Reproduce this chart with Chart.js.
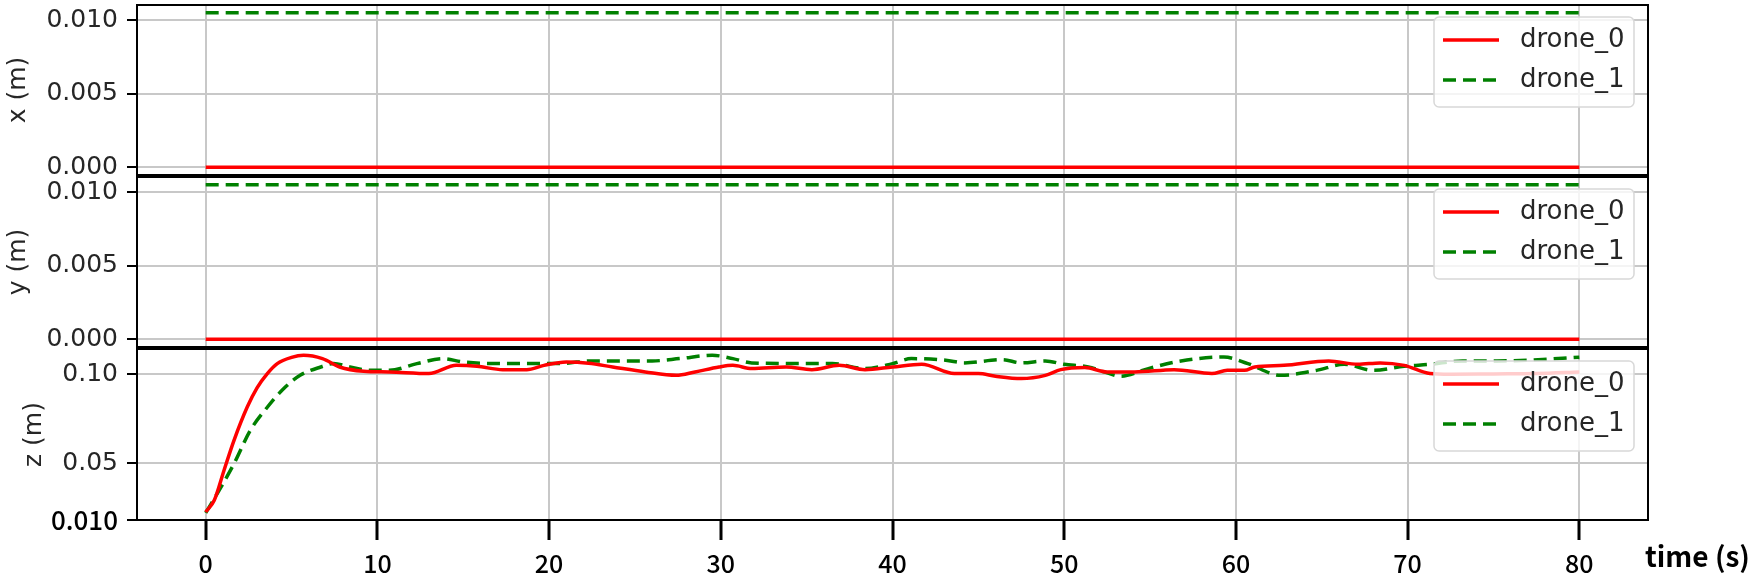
<!DOCTYPE html>
<html>
<head>
<meta charset="utf-8">
<script src="https://cdn.jsdelivr.net/npm/chart.js@4.4.0/dist/chart.umd.min.js"></script>
<style>
  html, body { margin: 0; padding: 0; background: #fff; }
  #wrap { position: relative; width: 1755px; height: 584px; }
  #wrap canvas { position: absolute; left: 0; top: 0; }
</style>
</head>
<body>
<div id="wrap">
  <canvas id="panelX" width="1755" height="584"></canvas>
  <canvas id="panelY" width="1755" height="584"></canvas>
  <canvas id="panelZ" width="1755" height="584"></canvas>
</div>
<script>
const seriesNames = ["drone_0", "drone_1"];

const timeTicks = [0, 10, 20, 30, 40, 50, 60, 70, 80];
const timeLabels = ["0", "10", "20", "30", "40", "50", "60", "70", "80"];

const xyTicks = [0, 0.005, 0.010];
const xyTickLabels = ["0.000", "0.005", "0.010"];
const zTicks = [0.018, 0.05, 0.10];
const zTickLabels = ["0.010", "0.05", "0.10"];

// x and y stay flat for the whole run
const xTime = [0, 80];
const xDrone0 = [0, 0];
const xDrone1 = [0.0105, 0.0105];
const yTime = [0, 80];
const yDrone0 = [0, 0];
const yDrone1 = [0.0105, 0.0105];

// z
const zTime0 = [0, 0.5, 1.07, 1.65, 2.42, 3, 3.59, 4.17, 5, 5.7,
  6.8, 7.8, 9.2, 10.7, 13, 14.6, 15.8, 17.3, 18.7, 19.7,
  21, 22.3, 23.7, 25.6, 27.4, 28.5, 29.9, 30.7, 31.8, 33.8,
  35.3, 36.9, 38.4, 40, 41.7, 43.6, 45, 46, 47.5, 48.9,
  49.8, 51.2, 52.5, 54.1, 56.4, 58.6, 59.5, 60.5, 61.1, 62.8,
  65.4, 67.1, 68.4, 69.8, 71.3, 72.5, 75, 77.5, 80];
const zDrone0 = [0.0226, 0.0292, 0.0461, 0.0629, 0.0816, 0.0925, 0.1004, 0.106, 0.1095, 0.1107,
  0.1088, 0.1041, 0.1017, 0.1013, 0.1004, 0.105, 0.1045, 0.1026, 0.1026, 0.105,
  0.1069, 0.1062, 0.1041, 0.1013, 0.0994, 0.1013, 0.1041, 0.105, 0.1032, 0.1041,
  0.1026, 0.105, 0.1026, 0.1041, 0.1056, 0.1004, 0.1004, 0.0989, 0.0976, 0.0994,
  0.1026, 0.1038, 0.1013, 0.1013, 0.1026, 0.1004, 0.1022, 0.1022, 0.1041, 0.105,
  0.1075, 0.1056, 0.1064, 0.105, 0.1004, 0.1, 0.1002, 0.1004, 0.1013];
const zTime1 = [0, 0.9, 1.65, 2.6, 3.6, 4.55, 5.5, 6.7, 7.45, 8.4,
  9.6, 10.7, 12.3, 13.8, 15, 17.5, 19.6, 21, 22.3, 23.7,
  26, 27.6, 29.5, 30.7, 31.8, 34.4, 36.5, 38.4, 40, 41.1,
  43.1, 44.2, 46.4, 47.5, 48.9, 50, 51.4, 52.5, 53.3, 54.9,
  56.8, 59.3, 60.7, 62.6, 64.7, 66.3, 68, 69.8, 71.3, 73.2,
  75.2, 77.1, 80];
const zDrone1 = [0.0221, 0.0367, 0.0498, 0.0685, 0.0816, 0.092, 0.0994, 0.1041, 0.106, 0.1041,
  0.1022, 0.1022, 0.106, 0.1088, 0.1069, 0.106, 0.106, 0.1062, 0.1075, 0.1075,
  0.1075, 0.1088, 0.1107, 0.1088, 0.1064, 0.106, 0.106, 0.1032, 0.106, 0.1088,
  0.1079, 0.1064, 0.1082, 0.1064, 0.1075, 0.1056, 0.1041, 0.1008, 0.0989, 0.1032,
  0.1075, 0.1097, 0.106, 0.0994, 0.1022, 0.1056, 0.1022, 0.1045, 0.1056, 0.1075,
  0.1075, 0.1079, 0.1096];

Chart.defaults.font.family = "DejaVu Sans";
Chart.defaults.color = "#262626";

const tickFont = { family: "DejaVu Sans", size: 25 };
const oddFont = { family: "Noto Sans CJK SC", size: 26, weight: 500 };

const toPoints = (ts, vs) => ts.map((t, i) => ({ x: t, y: vs[i] }));

function makeDatasets(t0, v0, t1, v1) {
  return [
    {
      label: seriesNames[0],
      data: toPoints(t0, v0),
      borderColor: "#ff0000",
      borderWidth: 3.5,
      pointRadius: 0,
      cubicInterpolationMode: "monotone",
    },
    {
      label: seriesNames[1],
      data: toPoints(t1, v1),
      borderColor: "#008000",
      borderWidth: 3.5,
      borderDash: [13, 7],
      pointRadius: 0,
      cubicInterpolationMode: "monotone",
    },
  ];
}

// legend drawn inside the plot, top right, semi-transparent box
const boxLegend = {
  id: "boxLegend",
  afterDatasetsDraw(chart) {
    const { ctx, chartArea } = chart;
    const w = 200, h = 90;
    const left = chartArea.right - 14 - w;
    const top = chartArea.top + 12;
    ctx.save();
    ctx.beginPath();
    ctx.roundRect(left, top, w, h, 5);
    ctx.fillStyle = "rgba(255,255,255,0.8)";
    ctx.fill();
    ctx.strokeStyle = "#d8d8d8";
    ctx.lineWidth = 1.5;
    ctx.stroke();
    chart.data.datasets.forEach((ds, i) => {
      const cy = top + 23 + i * 40;
      ctx.beginPath();
      ctx.setLineDash(ds.borderDash || []);
      ctx.strokeStyle = ds.borderColor;
      ctx.lineWidth = ds.borderWidth;
      ctx.moveTo(left + 9, cy);
      ctx.lineTo(left + 65, cy);
      ctx.stroke();
      ctx.setLineDash([]);
      ctx.fillStyle = "#262626";
      ctx.font = "26px 'DejaVu Sans'";
      ctx.textBaseline = "middle";
      ctx.fillText(ds.label, left + 86, cy);
    });
    ctx.restore();
  },
};

const frame = {
  id: "frame",
  afterDraw(chart) {
    const { ctx, chartArea: a } = chart;
    ctx.save();
    ctx.strokeStyle = "#000";
    ctx.lineWidth = 2;
    ctx.strokeRect(a.left, a.top, a.right - a.left, a.bottom - a.top);
    ctx.restore();
  },
};

const timeTitle = {
  id: "timeTitle",
  afterDraw(chart) {
    const { ctx, chartArea } = chart;
    ctx.save();
    ctx.fillStyle = "#000";
    ctx.font = "bold 28px 'Noto Sans CJK SC'";
    ctx.textBaseline = "middle";
    ctx.fillText("time (s)", chartArea.right - 3, 556);
    ctx.restore();
  },
};

function timeScale(showTicks) {
  return {
    type: "linear",
    min: -4,
    max: 84,
    afterBuildTicks: (s) => { s.ticks = timeTicks.map((v) => ({ value: v })); },
    afterFit: (s) => {
      s.height = showTicks ? 64 : 0;
      s.paddingLeft = 0;
      s.paddingRight = 0;
    },
    grid: {
      color: "#c8c8c8",
      lineWidth: 2,
      drawTicks: showTicks,
      tickLength: 20,
      tickColor: "#000",
      tickWidth: 3,
    },
    border: { display: true, color: "#000", width: 2 },
    ticks: {
      display: showTicks,
      color: "#000",
      padding: 8,
      maxRotation: 0,
      font: { family: "Noto Sans CJK SC", size: 25, weight: 500 },
      callback: (v, i) => timeLabels[i],
    },
  };
}

function valueScale(title, min, max, tickVals, tickLabels, oddFirst) {
  return {
    type: "linear",
    min: min,
    max: max,
    afterBuildTicks: (s) => { s.ticks = tickVals.map((v) => ({ value: v })); },
    afterFit: (s) => {
      s.width = 137;
      s.paddingTop = 0;
      s.paddingBottom = 0;
    },
    grid: {
      color: "#c8c8c8",
      lineWidth: 2,
      tickLength: 10,
      tickColor: "#000",
      tickWidth: 2,
    },
    border: { display: true, color: "#000", width: 2 },
    ticks: {
      padding: 9,
      color: oddFirst ? (c) => (c.index === 0 ? "#000" : "#262626") : "#262626",
      font: oddFirst ? (c) => (c.index === 0 ? oddFont : tickFont) : tickFont,
      callback: (v, i) => tickLabels[i],
    },
    title: {
      display: true,
      text: title,
      color: "#262626",
      font: { family: "DejaVu Sans", size: 25 },
      padding: { top: 3, bottom: 0 },
    },
  };
}

function makePanel(id, datasets, yScale, showTime, pad, extra) {
  new Chart(document.getElementById(id), {
    type: "line",
    data: { datasets: datasets },
    options: {
      responsive: false,
      animation: false,
      events: [],
      layout: { padding: pad },
      plugins: { legend: { display: false }, tooltip: { enabled: false } },
      scales: { x: timeScale(showTime), y: yScale },
    },
    plugins: [boxLegend, frame].concat(extra || []),
  });
}

const zScale = valueScale("z (m)", 0.0181, 0.1142, zTicks, zTickLabels, true);
zScale.title.padding = { top: 19, bottom: 0 };

makePanel("panelX", makeDatasets(xTime, xDrone0, xTime, xDrone1),
  valueScale("x (m)", -0.000525, 0.011025, xyTicks, xyTickLabels, false),
  false, { left: 0, right: 107, top: 5, bottom: 409 });

makePanel("panelY", makeDatasets(yTime, yDrone0, yTime, yDrone1),
  valueScale("y (m)", -0.000525, 0.011025, xyTicks, xyTickLabels, false),
  false, { left: 0, right: 107, top: 177, bottom: 237 });

makePanel("panelZ", makeDatasets(zTime0, zDrone0, zTime1, zDrone1),
  zScale, true, { left: 0, right: 107, top: 349, bottom: 0 }, [timeTitle]);
</script>
</body>
</html>
